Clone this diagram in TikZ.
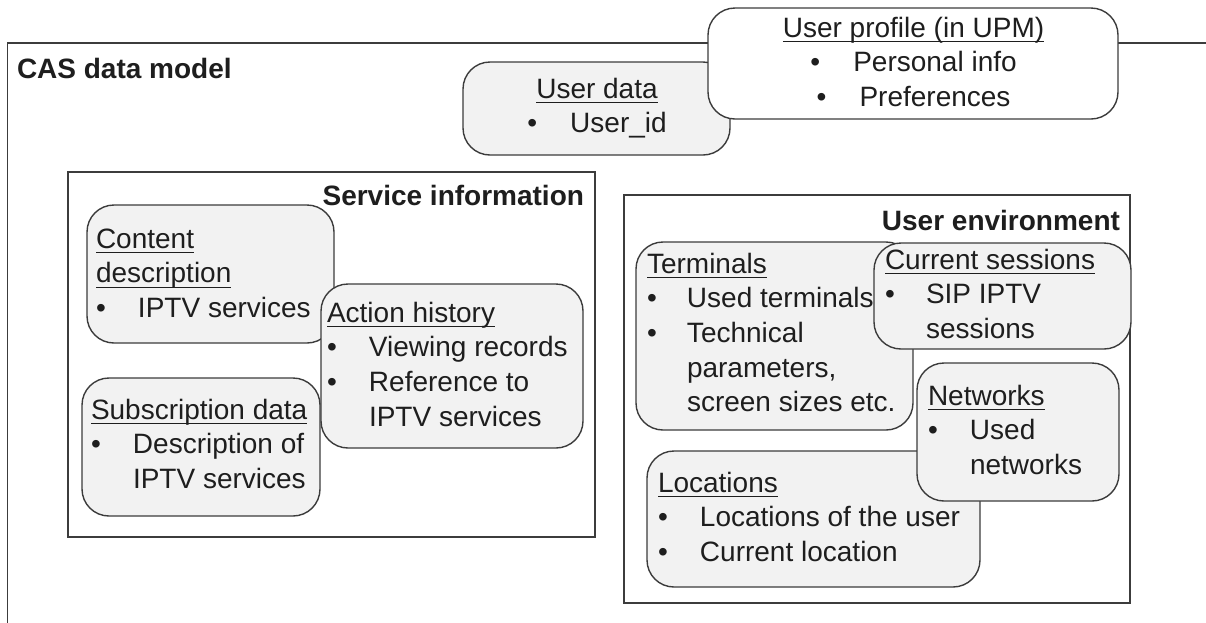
\documentclass[tikz,border=0pt]{standalone}
\usepackage{fontspec}
\setmainfont{Liberation Sans}
\definecolor{ln}{RGB}{60,60,60}
\definecolor{fl}{RGB}{242,242,242}
\definecolor{tx}{RGB}{30,30,30}
\newcommand\ulx[1]{\setbox0\hbox{#1}\rlap{\rule[-5.3pt]{\wd0}{1.5pt}}\box0}
\tikzset{
  rbox/.style={draw=ln, fill=fl, rounded corners=27pt, line width=1.4pt, inner sep=0pt},
  sbox/.style={draw=ln, fill=white, line width=1.4pt, inner sep=0pt},
  wbox/.style={draw=ln, fill=white, rounded corners=27pt, line width=1.4pt, inner sep=0pt},
  txt/.style={inner sep=0pt, outer sep=0pt, text=tx, anchor=base west, font=\fontsize{28}{34.7}\selectfont},
  ttl/.style={inner sep=0pt, outer sep=0pt, text=tx, font=\fontsize{28}{34.7}\selectfont\bfseries}
}
\begin{document}
\begin{tikzpicture}[x=1pt,y=-1pt]
\useasboundingbox (0,0) rectangle (1206,622);
% outer frame (extends beyond the picture at right and bottom)
\node[sbox, minimum width=1292.5pt, minimum height=657pt] (cas) at (653.75,371.5) {};
\node[ttl, anchor=base west] (castitle) at (17,78) {CAS data model};
% user data and user profile
\node[rbox, minimum width=267pt, minimum height=93pt] (userdata) at (596.5,108.5) {};
\node[txt, anchor=base] (userdataT) at (597,98) {\begin{tabular}[t]{@{}c@{}}\ulx{User data}\\ \makebox[43pt][l]{\textbullet}User\_id\end{tabular}};
\node[wbox, minimum width=410pt, minimum height=111pt] (profile) at (913,63.5) {};
\node[txt, anchor=base] (profileT) at (913.5,37) {\begin{tabular}[t]{@{}c@{}}\ulx{User profile (in UPM)}\\ \makebox[43pt][l]{\textbullet}Personal info\\ \makebox[43pt][l]{\textbullet}Preferences\end{tabular}};
% service information
\node[sbox, minimum width=527pt, minimum height=365pt] (service) at (331.5,354.5) {};
\node[ttl, anchor=base east] (serviceT) at (584,205) {Service information};
\node[rbox, minimum width=247pt, minimum height=138pt] (content) at (210.5,274) {};
\node[txt] (contentT) at (96,248) {\begin{tabular}[t]{@{}p{42pt}@{}l@{}}\multicolumn{2}{@{}l@{}}{\ulx{Content}}\\ \multicolumn{2}{@{}l@{}}{\ulx{description}}\\ \textbullet & IPTV services\end{tabular}};
\node[rbox, minimum width=262pt, minimum height=164pt] (action) at (452,366) {};
\node[txt] (actionT) at (327,322) {\begin{tabular}[t]{@{}p{42pt}@{}l@{}}\multicolumn{2}{@{}l@{}}{\ulx{Action history}}\\ \textbullet & Viewing records\\ \textbullet & Reference to\\ & IPTV services\end{tabular}};
\node[rbox, minimum width=238pt, minimum height=138pt] (subscr) at (201,447) {};
\node[txt] (subscrT) at (91,419) {\begin{tabular}[t]{@{}p{42pt}@{}l@{}}\multicolumn{2}{@{}l@{}}{\ulx{Subscription data}}\\ \textbullet & Description of\\ & IPTV services\end{tabular}};
% user environment
\node[sbox, minimum width=506pt, minimum height=408pt] (userenv) at (877,399) {};
\node[ttl, anchor=base east] (userenvT) at (1120,230) {User environment};
\node[rbox, minimum width=277pt, minimum height=188pt] (terminals) at (774.5,336) {};
\node[txt] (terminalsT) at (647,273) {\begin{tabular}[t]{@{}p{40pt}@{}l@{}}\multicolumn{2}{@{}l@{}}{\ulx{Terminals}}\\ \textbullet & Used terminals\\ \textbullet & Technical\\ & parameters,\\ & screen sizes etc.\end{tabular}};
\node[rbox, minimum width=257pt, minimum height=106pt] (current) at (1002.5,296) {};
\node[txt] (currentT) at (885,269) {\begin{tabular}[t]{@{}p{41pt}@{}l@{}}\multicolumn{2}{@{}l@{}}{\ulx{Current sessions}}\\ \textbullet & SIP IPTV\\ & sessions\end{tabular}};
\node[rbox, minimum width=333pt, minimum height=136pt] (locations) at (813.5,519) {};
\node[txt] (locationsT) at (658,492) {\begin{tabular}[t]{@{}p{42pt}@{}l@{}}\multicolumn{2}{@{}l@{}}{\ulx{Locations}}\\ \textbullet & Locations of the user\\ \textbullet & Current location\end{tabular}};
\node[rbox, minimum width=202pt, minimum height=138pt] (networks) at (1018,432) {};
\node[txt] (networksT) at (928,405) {\begin{tabular}[t]{@{}p{42pt}@{}l@{}}\multicolumn{2}{@{}l@{}}{\ulx{Networks}}\\ \textbullet & Used\\ & networks\end{tabular}};
\end{tikzpicture}
\end{document}
